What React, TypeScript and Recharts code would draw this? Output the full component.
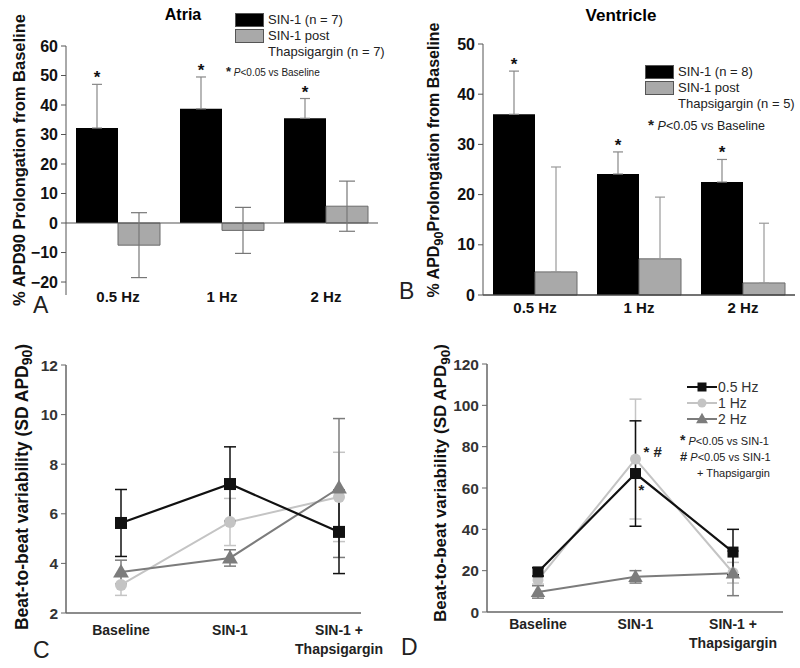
import React from 'react';
import { BarChart, Bar, LineChart, Line, XAxis, YAxis, ErrorBar, ReferenceLine, Legend, LabelList, Label } from 'recharts';

const FONT = '"Liberation Sans", Arial, Helvetica, sans-serif';

// shared categories
const freqCats = ['0.5 Hz', '1 Hz', '2 Hz'];
const sigStars = ['*', '*', '*'];

// A - Atria, % APD90 prolongation
const atriaSin1 = [32.2, 38.7, 35.5];
const atriaSin1Err = [14.8, 10.8, 6.7];
const atriaPost = [-7.5, -2.5, 5.7];
const atriaPostErr = [11, 7.8, 8.5];
const atriaTicks = [-20, -10, 0, 10, 20, 30, 40, 50, 60];

// B - Ventricle, % APD90 prolongation
const ventSin1 = [36, 24.1, 22.5];
const ventSin1Err = [8.6, 4.4, 4.5];
const ventPost = [4.6, 7.2, 2.4];
const ventPostErr = [20.9, 12.3, 11.9];
const ventTicks = [0, 10, 20, 30, 40, 50];

// C / D - beat-to-beat variability
const stageCats = ['Baseline', 'SIN-1', 'SIN-1 +\nThapsigargin'];

const atriaVar05 = [5.63, 7.2, 5.27];
const atriaVar05Err = [1.35, 1.5, 1.68];
const atriaVar1 = [3.13, 5.67, 6.68];
const atriaVar1Err = [0.42, 0.95, 1.8];
const atriaVar2 = [3.65, 4.22, 7.04];
const atriaVar2Err = [0.48, 0.33, 2.8];
const atriaVarTicks = [2, 4, 6, 8, 10, 12];

const ventVar05 = [19.4, 67, 29];
const ventVar05Err = [2, 25.5, 11];
const ventVar1 = [15.5, 74, 19];
const ventVar1Err = [2, 29, 5];
const ventVar2 = [9.7, 17, 18.7];
const ventVar2Err = [3, 3, 10.8];
const ventVarTicks = [0, 20, 40, 60, 80, 100, 120];
const ventMarks05 = ['', '*', ''];
const ventMarks1 = ['', '* #', ''];

const atriaRows = freqCats.map((name, i) => ({
  name,
  sin1: atriaSin1[i],
  sin1Err: [0, atriaSin1Err[i]],
  post: atriaPost[i],
  postErr: atriaPostErr[i],
  star: sigStars[i],
}));

const ventRows = freqCats.map((name, i) => ({
  name,
  sin1: ventSin1[i],
  sin1Err: [0, ventSin1Err[i]],
  post: ventPost[i],
  postErr: [0, ventPostErr[i]],
  star: sigStars[i],
}));

const makeVarRows = (v05: number[], e05: number[], v1: number[], e1: number[], v2: number[], e2: number[], m05?: string[], m1?: string[]) =>
  stageCats.map((name, i) => ({
    name,
    f05: v05[i], f05Err: e05[i],
    f1: v1[i], f1Err: e1[i],
    f2: v2[i], f2Err: e2[i],
    m05: m05 ? m05[i] : '',
    m1: m1 ? m1[i] : '',
  }));

const atriaVarRows = makeVarRows(atriaVar05, atriaVar05Err, atriaVar1, atriaVar1Err, atriaVar2, atriaVar2Err);
const ventVarRows = makeVarRows(ventVar05, ventVar05Err, ventVar1, ventVar1Err, ventVar2, ventVar2Err, ventMarks05, ventMarks1);

const lineSeries = [
  { key: 'f05', name: '0.5 Hz', color: '#111111', shape: 'square', width: 2.2 },
  { key: 'f1', name: '1 Hz', color: '#c4c4c4', shape: 'circle', width: 2 },
  { key: 'f2', name: '2 Hz', color: '#7c7c7c', shape: 'triangle', width: 2 },
];
const drawOrder = ['f1', 'f2', 'f05'];

const minus = (v: number) => (v < 0 ? `\u2212${-v}` : `${v}`);

const Marker = ({ cx, cy, shape, color, size }: any) => {
  if (cx == null || cy == null) return null;
  if (shape === 'square') return <rect x={cx - size / 2} y={cy - size / 2} width={size} height={size} fill={color} />;
  if (shape === 'circle') return <circle cx={cx} cy={cy} r={size / 2} fill={color} />;
  const h = size * 1.1;
  return <polygon points={`${cx},${cy - h * 0.62} ${cx - h * 0.6},${cy + h * 0.42} ${cx + h * 0.6},${cy + h * 0.42}`} fill={color} />;
};

// rotated y-axis title, "90" optionally as subscript
const yTitle = (cx: number, cy: number, before: string, after: string, fs: number, sub: boolean) => () => (
  <text transform={`translate(${cx},${cy}) rotate(-90)`} textAnchor="middle" dominantBaseline="central"
    fontFamily={FONT} fontWeight={700} fontSize={fs} fill="#111">
    {before}
    {sub ? <tspan fontSize={fs * 0.8} dy={fs * 0.3}>90</tspan> : <tspan>90</tspan>}
    {sub ? <tspan dy={-fs * 0.3}>{after}</tspan> : <tspan>{after}</tspan>}
  </text>
);

const starLabel = (vals: number[], errs: number[]) => (p: any) => {
  const vb = p.viewBox || p;
  const { x, y, width, height } = vb;
  const i = p.index;
  const mark = sigStars[i];
  if (!mark || x == null) return null;
  const ppu = Math.abs(height) / Math.abs(vals[i]);
  const top = y - errs[i] * ppu;
  return (
    <text x={x + width / 2} y={top - 1} textAnchor="middle" fontFamily={FONT} fontWeight={700} fontSize={17} fill="#111">
      {mark}
    </text>
  );
};

const BarTick = ({ x, y, payload, dy }: any) => (
  <text x={x} y={y + dy} textAnchor="middle" dominantBaseline="central" fontFamily={FONT} fontWeight={700} fontSize={15} fill="#111">
    {payload.value}
  </text>
);

// multi-line category label, baseline placed explicitly
const StageTick = ({ x, y, payload, dy, gap }: any) => {
  const lines = String(payload.value).split('\n');
  const fs = 14;
  return (
    <text x={x} y={y + dy + fs * 0.36} textAnchor="middle" fontFamily={FONT} fontWeight={700} fontSize={fs} fill="#222">
      {lines.map((l, i) => (
        <tspan key={i} x={x} dy={i === 0 ? 0 : gap}>{l}</tspan>
      ))}
    </text>
  );
};

const BarLegend = ({ payload, fs, note, noteFs, noteLeft, noteTop }: any) => (
  <div style={{ fontFamily: FONT, fontSize: fs, color: '#222', lineHeight: '16px' }}>
    {(payload || []).map((e: any) => (
      <div key={e.value} style={{ display: 'flex', alignItems: 'flex-start' }}>
        <span style={{ width: 29, height: 14, background: e.color, border: '1px solid #555', boxSizing: 'border-box', marginTop: 1 }} />
        <span style={{ marginLeft: 4, whiteSpace: 'pre' }}>{e.value}</span>
      </div>
    ))}
    <div style={{ fontSize: noteFs, marginLeft: noteLeft, marginTop: noteTop, whiteSpace: 'nowrap' }}>
      <b style={{ fontSize: noteFs + 3 }}>*</b> <i>P</i>{note}
    </div>
  </div>
);

const LineLegend = ({ fs, size, notes }: any) => (
  <div style={{ fontFamily: FONT, fontSize: fs, color: '#333', lineHeight: '16px' }}>
    {lineSeries.map((s) => (
      <div key={s.key} style={{ display: 'flex', alignItems: 'center', height: 16 }}>
        <svg width={30} height={16}>
          <line x1={0} y1={8} x2={30} y2={8} stroke={s.color} strokeWidth={2} />
          <Marker cx={15} cy={8} shape={s.shape} color={s.color} size={size} />
        </svg>
        <span style={{ marginLeft: 1 }}>{s.name}</span>
      </div>
    ))}
    {notes ? (
      <div style={{ fontSize: 11, lineHeight: '16px', marginTop: 5, marginLeft: -7, whiteSpace: 'nowrap', color: '#222' }}>
        <div><b style={{ fontSize: 14 }}>*</b> <i>P</i>{'<0.05 vs SIN-1'}</div>
        <div><b style={{ fontSize: 13 }}>#</b> <i>P</i>{'<0.05 vs SIN-1'}</div>
        <div style={{ marginLeft: 17 }}>+ Thapsigargin</div>
      </div>
    ) : null}
  </div>
);

const markLabel = (dx: number, dy: number) => (p: any) => {
  const { x, y, value } = p;
  if (!value || x == null) return null;
  return (
    <text x={x + dx} y={y + dy} fontFamily={FONT} fontWeight={700} fontSize={15} fill="#222" dominantBaseline="central">
      {value}
    </text>
  );
};

const yTickStyle = (fs: number) => ({ fontFamily: FONT, fontWeight: 700, fontSize: fs, fill: '#111' });

const AtriaBars = () => (
  <BarChart width={400} height={320} data={atriaRows} margin={{ top: 46, right: 22, bottom: 0, left: 0 }} barGap={0} barSize={42}>
    <XAxis dataKey="name" axisLine={false} tickLine={false} tickSize={0} tickMargin={0} height={25}
      tick={(p: any) => <BarTick {...p} dy={1} />} />
    <YAxis domain={[-24.4, 60]} ticks={atriaTicks} allowDataOverflow width={66} tickSize={5} tickMargin={3}
      tickFormatter={minus} axisLine={{ stroke: '#555' }} tickLine={{ stroke: '#555' }} tick={yTickStyle(16)}>
      <Label content={yTitle(19, 160, '% APD', ' Prolongation from Baseline', 16.5, false)} />
    </YAxis>
    <ReferenceLine y={0} stroke="#555" strokeWidth={1.2} />
    <Legend layout="horizontal" verticalAlign="middle" align="center"
      wrapperStyle={{ left: 235, top: 12, width: 'auto' }}
      content={(p: any) => <BarLegend {...p} fs={13} note="<0.05 vs Baseline" noteFs={10} noteLeft={-9} noteTop={4} />} />
    <Bar dataKey="sin1" name="SIN-1 (n = 7)" fill="#000" isAnimationActive={false}>
      <ErrorBar dataKey="sin1Err" direction="y" width={5} stroke="#888" strokeWidth={1.2} />
      <LabelList dataKey="star" content={starLabel(atriaSin1, atriaSin1Err)} />
    </Bar>
    <Bar dataKey="post" name={'SIN-1 post\nThapsigargin (n = 7)'} fill="#a9a9a9" stroke="#6a6a6a" strokeWidth={1} isAnimationActive={false}>
      <ErrorBar dataKey="postErr" direction="y" width={8} stroke="#777" strokeWidth={1.2} />
    </Bar>
  </BarChart>
);

const VentBars = () => (
  <BarChart width={400} height={320} data={ventRows} margin={{ top: 44, right: 5, bottom: 0, left: 0 }} barGap={0} barSize={42}>
    <XAxis dataKey="name" axisLine={{ stroke: '#444', strokeWidth: 1.5 }} tickLine={false} tickSize={0} tickMargin={0} height={25}
      tick={(p: any) => <BarTick {...p} dy={12} />} />
    <YAxis domain={[0, 50]} ticks={ventTicks} width={83} tickSize={5} tickMargin={3}
      axisLine={{ stroke: '#555' }} tickLine={{ stroke: '#555' }} tick={yTickStyle(16)}>
      <Label content={yTitle(33, 160, '% APD', 'Prolongation from Baseline', 16, true)} />
    </YAxis>
    <Legend layout="horizontal" verticalAlign="middle" align="center"
      wrapperStyle={{ left: 245, top: 64, width: 'auto' }}
      content={(p: any) => <BarLegend {...p} fs={13} note="<0.05 vs Baseline" noteFs={12.5} noteLeft={3} noteTop={5} />} />
    <Bar dataKey="sin1" name="SIN-1 (n = 8)" fill="#000" isAnimationActive={false}>
      <ErrorBar dataKey="sin1Err" direction="y" width={5} stroke="#888" strokeWidth={1.2} />
      <LabelList dataKey="star" content={starLabel(ventSin1, ventSin1Err)} />
    </Bar>
    <Bar dataKey="post" name={'SIN-1 post\nThapsigargin (n = 5)'} fill="#a9a9a9" stroke="#6a6a6a" strokeWidth={1} isAnimationActive={false}>
      <ErrorBar dataKey="postErr" direction="y" width={5} stroke="#999" strokeWidth={1.2} />
    </Bar>
  </BarChart>
);

const VarChart = ({ rows, ticks, domain, yWidth, margin, padding, tickDy, tickGap, title, legendPos, legendFs, size, notes }: any) => (
  <LineChart width={400} height={348} data={rows} margin={margin}>
    <XAxis dataKey="name" padding={padding} axisLine={{ stroke: '#666', strokeWidth: 1.5 }} tickLine={false} tickSize={0} tickMargin={0}
      height={margin.bottomAxis} tick={(p: any) => <StageTick {...p} dy={tickDy} gap={tickGap} />} />
    <YAxis domain={domain} ticks={ticks} width={yWidth} tickSize={5} tickMargin={3}
      axisLine={{ stroke: '#666', strokeWidth: 1.5 }} tickLine={{ stroke: '#666' }} tick={{ ...yTickStyle(15.5), fill: '#333' }}>
      <Label content={title} />
    </YAxis>
    <Legend layout="horizontal" verticalAlign="middle" align="center"
      wrapperStyle={{ left: legendPos[0], top: legendPos[1], width: 'auto' }}
      content={() => <LineLegend fs={legendFs} size={size - 2} notes={notes} />} />
    {drawOrder.map((k) => {
      const s = lineSeries.find((d) => d.key === k)!;
      return (
        <Line key={k} type="linear" dataKey={k} name={s.name} stroke={s.color} strokeWidth={s.width} isAnimationActive={false}
          dot={(p: any) => <Marker key={`${k}-${p.index}`} cx={p.cx} cy={p.cy} shape={s.shape} color={s.color} size={size} />}
          activeDot={false}>
          <ErrorBar dataKey={`${k}Err`} direction="y" width={6} stroke={s.color} strokeWidth={1.5} />
          {notes && k === 'f1' ? <LabelList dataKey="m1" content={markLabel(8, -8)} /> : null}
          {notes && k === 'f05' ? <LabelList dataKey="m05" content={markLabel(3, 16)} /> : null}
        </Line>
      );
    })}
  </LineChart>
);

const letter = (t: string, left: number, top: number) => (
  <div style={{ position: 'absolute', left, top, fontFamily: FONT, fontSize: 23, lineHeight: '23px', color: '#222' }}>{t}</div>
);

export default function App() {
  return (
    <div style={{ position: 'absolute', left: 0, top: 0, width: 800, height: 668, background: '#fff', overflow: 'hidden' }}>
      <div style={{ position: 'absolute', left: 0, top: 0 }}><AtriaBars /></div>
      <div style={{ position: 'absolute', left: 400, top: 0 }}><VentBars /></div>
      <div style={{ position: 'absolute', left: 0, top: 320 }}>
        <VarChart rows={atriaVarRows} ticks={atriaVarTicks} domain={[2, 12]} yWidth={66}
          margin={{ top: 45, right: 39, bottom: 0, left: 0, bottomAxis: 55 }} padding={{ left: 55, right: 22 }}
          tickDy={17} tickGap={19} legendPos={[255, 365]} legendFs={13} size={12}
          title={yTitle(22, 167, 'Beat-to-beat variability (SD APD', ')', 17.5, true)} />
      </div>
      <div style={{ position: 'absolute', left: 400, top: 320 }}>
        <VarChart rows={ventVarRows} ticks={ventVarTicks} domain={[0, 120]} yWidth={87}
          margin={{ top: 44, right: 17, bottom: 0, left: 0, bottomAxis: 56 }} padding={{ left: 51, right: 50 }}
          tickDy={12} tickGap={19} legendPos={[287, 59]} legendFs={14} size={11} notes
          title={yTitle(40, 163, 'Beat-to-beat variability (SD APD', ')', 17, true)} />
      </div>
      <div style={{ position: 'absolute', left: 0, top: 6, width: 366, textAlign: 'center', fontFamily: FONT, fontWeight: 700, fontSize: 16 }}>Atria</div>
      <div style={{ position: 'absolute', left: 400, top: 6, width: 442, textAlign: 'center', fontFamily: FONT, fontWeight: 700, fontSize: 17 }}>Ventricle</div>
      {letter('A', 33, 294)}
      {letter('B', 399, 280)}
      {letter('C', 33, 639)}
      {letter('D', 401, 636)}
    </div>
  );
}
